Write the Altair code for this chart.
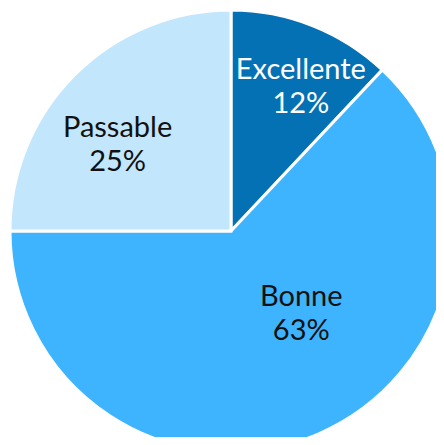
import altair as alt
import pandas as pd

categories = ["Excellente", "Bonne", "Passable"]
values = [12, 63, 25]
colors = ["#0571b5", "#3db4fd", "#c2e6fc"]
text_colors = ["#ffffff", "#111111", "#111111"]

df = pd.DataFrame({
    "cat": categories,
    "val": values,
    "ord": list(range(len(categories))),
})
df["label"] = [f"{c}\n{v}%" for c, v in zip(categories, values)]

CX, CY = 223, 223

pie = alt.Chart(df).mark_arc(outerRadius=221, stroke="white", strokeWidth=3).encode(
    theta=alt.Theta("val:Q", stack=True),
    order=alt.Order("ord:Q"),
    color=alt.Color("cat:N", scale=alt.Scale(domain=categories, range=colors), legend=None),
    x=alt.value(CX),
    y=alt.value(CY),
)

text_base = alt.Chart(df).transform_window(
    cum="sum(val)", sort=[alt.SortField("ord")]
).transform_calculate(
    mid="datum.cum - datum.val / 2"
)

offsets = {"Excellente": (160, 11, -12), "Bonne": (109, 27, -34), "Passable": (142, -13, -3)}
layers = [pie]
for c, tc in zip(categories, text_colors):
    r, dx, dy = offsets[c]
    layers.append(
        text_base.transform_filter(alt.datum.cat == c)
        .mark_text(radius=r, dx=dx, dy=dy, fontSize=29, font="Lato", lineBreak="\n",
                   lineHeight=34, color=tc, align="center", baseline="middle")
        .encode(
            theta=alt.Theta("mid:Q", scale=alt.Scale(domain=[0, sum(values)], range=[0, 6.283185307179586])),
            text="label:N",
            x=alt.value(CX),
            y=alt.value(CY),
        )
    )

chart = alt.layer(*layers).properties(
    width=428, height=429, padding=0, autosize=alt.AutoSizeParams(type="none")
).configure_view(stroke=None)
chart.save("out.html", embed_options={"renderer": "svg", "actions": False})
